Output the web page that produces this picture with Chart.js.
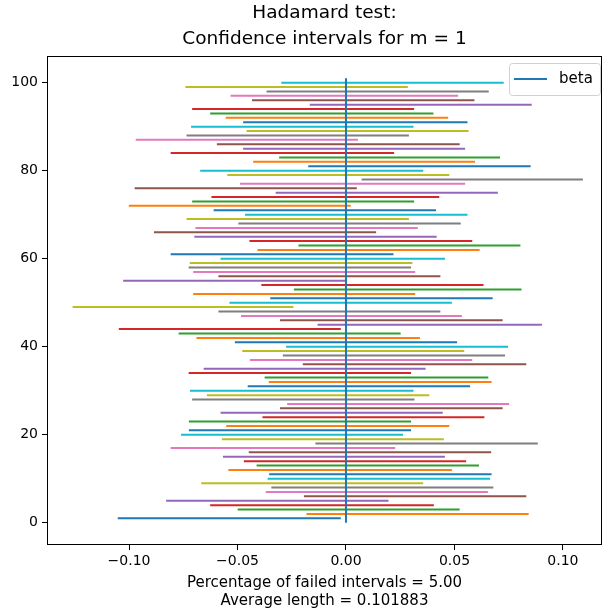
<!DOCTYPE html>
<html>
<head>
<meta charset="utf-8">
<title>Hadamard test</title>
<script src="https://cdn.jsdelivr.net/npm/chart.js@4.4.0/dist/chart.umd.min.js"></script>
<style>
body{margin:0;background:#fff}
canvas{display:block}
</style>
</head>
<body>
<canvas id="chart" width="603" height="615"></canvas>
<script>
/* interval bounds, bottom (y=1) to top (y=100) */
const lower = [
  -0.1052,-0.0182,-0.0499,-0.0626,-0.0829,-0.0194,-0.0370,-0.0344,-0.0667,-0.0361,
  -0.0354,-0.0542,-0.0412,-0.0471,-0.0567,-0.0448,-0.0808,-0.0141,-0.0572,-0.0760,
  -0.0724,-0.0552,-0.0724,-0.0385,-0.0578,-0.0304,-0.0271,-0.0709,-0.0641,-0.0719,
  -0.0453,-0.0356,-0.0375,-0.0725,-0.0656,-0.0199,-0.0443,-0.0291,-0.0478,-0.0276,
  -0.0512,-0.0689,-0.0771,-0.1047,-0.0131,-0.0304,-0.0484,-0.0588,-0.1260,-0.0537,
  -0.0349,-0.0704,-0.0240,-0.0390,-0.1027,-0.0588,-0.0704,-0.0725,-0.0720,-0.0578,
  -0.0808,-0.0408,-0.0219,-0.0445,-0.0699,-0.0885,-0.0694,-0.0496,-0.0735,-0.0465,
  -0.0610,-0.1001,-0.0709,-0.0620,-0.0324,-0.0974,-0.0489, 0.0072,-0.0547,-0.0672,
  -0.0174,-0.0428,-0.0308,-0.0808,-0.0474,-0.0595,-0.0969,-0.0735,-0.0458,-0.0714,
  -0.0474,-0.0554,-0.0626,-0.0709,-0.0167,-0.0433,-0.0532,-0.0366,-0.0740,-0.0298
];
const upper = [
  -0.0024, 0.0842, 0.0524, 0.0405, 0.0196, 0.0831, 0.0654, 0.0679, 0.0356, 0.0664,
   0.0671, 0.0488, 0.0613, 0.0554, 0.0456, 0.0669, 0.0227, 0.0884, 0.0451, 0.0263,
   0.0300, 0.0476, 0.0300, 0.0638, 0.0446, 0.0722, 0.0752, 0.0316, 0.0384, 0.0311,
   0.0572, 0.0671, 0.0656, 0.0300, 0.0367, 0.0831, 0.0582, 0.0733, 0.0545, 0.0747,
   0.0512, 0.0341, 0.0252,-0.0024, 0.0903, 0.0722, 0.0534, 0.0435,-0.0242, 0.0488,
   0.0676, 0.0319, 0.0809, 0.0634,-0.0002, 0.0435, 0.0319, 0.0300, 0.0306, 0.0456,
   0.0219, 0.0616, 0.0804, 0.0582, 0.0418, 0.0139, 0.0331, 0.0529, 0.0290, 0.0560,
   0.0415, 0.0022, 0.0314, 0.0430, 0.0700, 0.0050, 0.0549, 0.1092, 0.0476, 0.0356,
   0.0851, 0.0595, 0.0710, 0.0222, 0.0549, 0.0524, 0.0055, 0.0290, 0.0565, 0.0311,
   0.0560, 0.0471, 0.0403, 0.0314, 0.0856, 0.0592, 0.0517, 0.0658, 0.0285, 0.0727
];
const beta = 0;
const betaSpan = [0, 101];
const xTicks = [-0.10, -0.05, 0.00, 0.05, 0.10];
const yTicks = [0, 20, 40, 60, 80, 100];
const titleLines = ['Hadamard test:', 'Confidence intervals for m = 1'];
const xLabelLines = ['Percentage of failed intervals = 5.00', 'Average length = 0.101883'];

const palette = ['#1f77b4','#ff7f0e','#2ca02c','#d62728','#9467bd','#8c564b','#e377c2','#7f7f7f','#bcbd22','#17becf'];
const FONT = 'DejaVu Sans';

const datasets = [{
  label: 'beta',
  data: betaSpan.map(y => ({x: beta, y})),
  borderColor: palette[0], borderWidth: 2, showLine: true, pointRadius: 0, order: 0
}];
lower.forEach((lo, i) => {
  datasets.push({
    label: 'ci' + (i + 1),
    data: [{x: lo, y: i + 1}, {x: upper[i], y: i + 1}],
    borderColor: palette[i % 10], borderWidth: 2, showLine: true, pointRadius: 0, order: 1
  });
});

/* frame, titles, legend */
const decor = {
  id: 'decor',
  afterDraw(chart){
    const {ctx, chartArea: a} = chart;
    ctx.save();
    ctx.strokeStyle = '#000'; ctx.lineWidth = 1;
    ctx.strokeRect(a.left + 0.5, a.top + 0.5, a.right - a.left - 1, a.bottom - a.top - 1);
    const cx = (a.left + a.right) / 2;
    ctx.fillStyle = '#000';
    ctx.textAlign = 'center'; ctx.textBaseline = 'middle';
    ctx.font = `18.5px "${FONT}"`;
    ctx.fillText(titleLines[0], cx, 13);
    ctx.fillText(titleLines[1], cx, 39);
    ctx.font = `15px "${FONT}"`;
    ctx.fillText(xLabelLines[0], cx, 583);
    ctx.fillText(xLabelLines[1], cx, 601);
    // legend
    const bx = a.right - 93, by = a.top + 7, bw = 91, bh = 32;
    ctx.fillStyle = 'rgba(255,255,255,0.8)';
    ctx.strokeStyle = '#d0d0d0';
    ctx.beginPath(); ctx.roundRect(bx + 0.5, by + 0.5, bw, bh, 3); ctx.fill(); ctx.stroke();
    ctx.strokeStyle = palette[0]; ctx.lineWidth = 2;
    ctx.beginPath(); ctx.moveTo(bx + 5, by + 16); ctx.lineTo(bx + 38, by + 16); ctx.stroke();
    ctx.fillStyle = '#000'; ctx.textAlign = 'left';
    ctx.fillText('beta', bx + 50, by + 16);
    ctx.restore();
  }
};

const tickFont = {family: FONT, size: 14};
const fmt = v => v.toFixed(2).replace('-', '\u2212');

new Chart(document.getElementById('chart').getContext('2d'), {
  type: 'scatter',
  data: {datasets},
  options: {
    responsive: false, animation: false,
    layout: {padding: {top: 56, right: 1, left: 0, bottom: 0}},
    plugins: {legend: {display: false}, tooltip: {enabled: false}},
    scales: {
      x: {
        type: 'linear', min: -0.1378, max: 0.118,
        afterBuildTicks: s => { s.ticks = xTicks.map(v => ({value: v})); },
        afterFit: s => { s.height = 70; },
        ticks: {font: tickFont, color: '#000', padding: 3, maxRotation: 0, callback: fmt},
        grid: {drawOnChartArea: false, drawTicks: true, tickLength: 5, color: '#000'},
        border: {display: false}
      },
      y: {
        type: 'linear', min: -5.05, max: 106.05,
        afterBuildTicks: s => { s.ticks = yTicks.map(v => ({value: v})); },
        afterFit: s => { s.width = 47; },
        ticks: {font: tickFont, color: '#000', padding: 4, callback: v => String(v)},
        grid: {drawOnChartArea: false, drawTicks: true, tickLength: 5, color: '#000'},
        border: {display: false}
      }
    }
  },
  plugins: [decor]
});
</script>
</body>
</html>
